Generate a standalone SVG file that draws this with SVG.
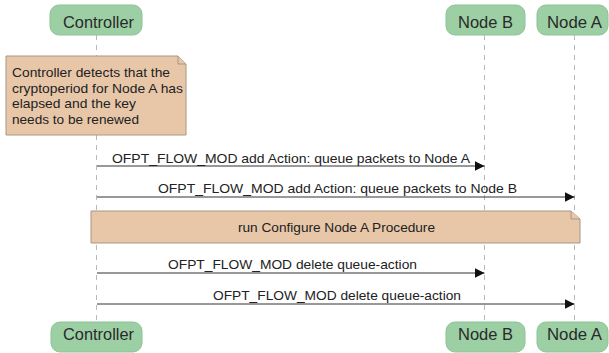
<svg xmlns="http://www.w3.org/2000/svg" width="609" height="353" viewBox="0 0 609 353">
  <defs>
    <style>
      .part rect { fill: #9ccfa4; stroke: #8cc495; stroke-width: 1; }
      .part text { font-family: "Liberation Sans", Arial, sans-serif; font-size: 17px; fill: #2a2a2a; }
      .life { stroke: #b8b8b8; stroke-width: 1; stroke-dasharray: 5 5; fill: none; }
      .note path.body { fill: #e8c7a9; stroke: #a89684; stroke-width: 1; }
      .note path.fold { fill: #e8c7a9; stroke: #a89684; stroke-width: 1; }
      .note text { font-family: "Liberation Sans", Arial, sans-serif; font-size: 13px; fill: #222; }
      .msg line { stroke: #333; stroke-width: 1; }
      .msg text { font-family: "Liberation Sans", Arial, sans-serif; font-size: 13px; fill: #222; }
    </style>
    <marker id="head" markerWidth="10" markerHeight="10" refX="10" refY="5" orient="auto" markerUnits="userSpaceOnUse">
      <path d="M0,0 L10,5 L0,10 Z" fill="#111"/>
    </marker>
  </defs>

  <rect width="609" height="353" fill="#ffffff"/>

  <!-- lifelines -->
  <g id="lifelines">
    <line class="life" x1="96.5" y1="35" x2="96.5" y2="322"/>
    <line class="life" x1="484.5" y1="35" x2="484.5" y2="322"/>
    <line class="life" x1="574.5" y1="35" x2="574.5" y2="322"/>
  </g>

  <!-- participants, top -->
  <g id="controller-top" class="part">
    <rect x="50" y="5" width="92" height="30" rx="9" ry="9"/>
    <text x="63" y="28" textLength="71" lengthAdjust="spacingAndGlyphs">Controller</text>
  </g>
  <g id="nodeb-top" class="part">
    <rect x="446" y="5" width="79" height="30" rx="9" ry="9"/>
    <text x="458" y="28" textLength="55" lengthAdjust="spacingAndGlyphs">Node B</text>
  </g>
  <g id="nodea-top" class="part">
    <rect x="537" y="5" width="71" height="30" rx="9" ry="9"/>
    <text x="547" y="28" textLength="55" lengthAdjust="spacingAndGlyphs">Node A</text>
  </g>

  <!-- note on Controller -->
  <g id="note-expiry" class="note">
    <path class="body" d="M6,56 L178,56 L186,64 L186,135 L6,135 Z"/>
    <path class="fold" d="M178,56 L178,64 L186,64"/>
    <text x="12" y="77" textLength="158" lengthAdjust="spacingAndGlyphs">Controller detects that the</text>
    <text x="12" y="92.5" textLength="171" lengthAdjust="spacingAndGlyphs">cryptoperiod for Node A has</text>
    <text x="12" y="108" textLength="124" lengthAdjust="spacingAndGlyphs">elapsed and the key</text>
    <text x="12" y="123.5" textLength="127" lengthAdjust="spacingAndGlyphs">needs to be renewed</text>
  </g>

  <!-- messages -->
  <g id="connectors" class="msg">
    <line x1="97" y1="166" x2="484.5" y2="166" marker-end="url(#head)"/>
    <text x="112" y="162.5" textLength="358" lengthAdjust="spacingAndGlyphs">OFPT_FLOW_MOD add Action: queue packets to Node A</text>

    <line x1="97" y1="197" x2="574.5" y2="197" marker-end="url(#head)"/>
    <text x="158" y="193.3" textLength="359" lengthAdjust="spacingAndGlyphs">OFPT_FLOW_MOD add Action: queue packets to Node B</text>

    <line x1="97" y1="273" x2="484.5" y2="273" marker-end="url(#head)"/>
    <text x="168" y="269.3" textLength="249" lengthAdjust="spacingAndGlyphs">OFPT_FLOW_MOD delete queue-action</text>

    <line x1="97" y1="304" x2="574.5" y2="304" marker-end="url(#head)"/>
    <text x="213" y="300" textLength="248" lengthAdjust="spacingAndGlyphs">OFPT_FLOW_MOD delete queue-action</text>
  </g>

  <!-- note spanning all participants -->
  <g id="note-procedure" class="note">
    <path class="body" d="M91,211 L571,211 L580,219 L580,243 L91,243 Z"/>
    <path class="fold" d="M571,211 L571,219 L580,219"/>
    <text x="238" y="231.7" textLength="197" lengthAdjust="spacingAndGlyphs">run Configure Node A Procedure</text>
  </g>

  <!-- participants, bottom -->
  <g id="controller-bottom" class="part">
    <rect x="51" y="322" width="91" height="30" rx="9" ry="9"/>
    <text x="63" y="339.5" textLength="71" lengthAdjust="spacingAndGlyphs">Controller</text>
  </g>
  <g id="nodeb-bottom" class="part">
    <rect x="446" y="322" width="79" height="30" rx="9" ry="9"/>
    <text x="458" y="339.5" textLength="55" lengthAdjust="spacingAndGlyphs">Node B</text>
  </g>
  <g id="nodea-bottom" class="part">
    <rect x="537" y="322" width="71" height="30" rx="9" ry="9"/>
    <text x="547" y="339.5" textLength="55" lengthAdjust="spacingAndGlyphs">Node A</text>
  </g>
</svg>
